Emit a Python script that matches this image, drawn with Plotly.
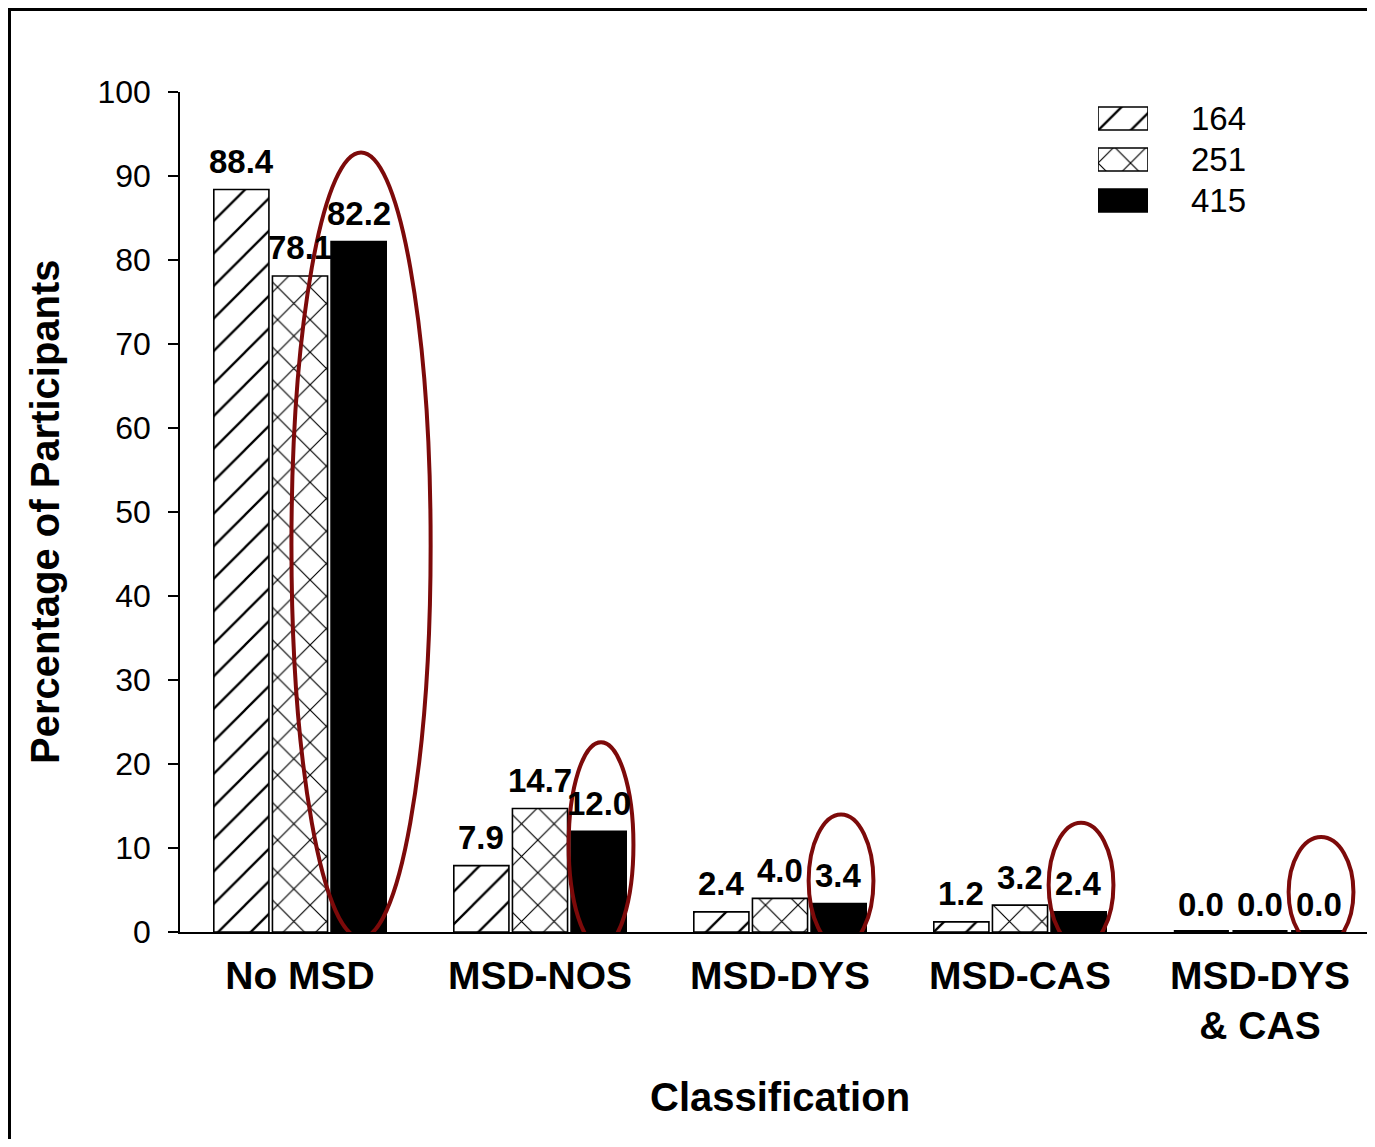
import plotly.graph_objects as go

# ---- data ----
categories = ["No MSD", "MSD-NOS", "MSD-DYS", "MSD-CAS", "MSD-DYS<br>& CAS"]
series_names = ["164", "251", "415"]
vals_164 = [88.4, 7.9, 2.4, 1.2, 0.0]
vals_251 = [78.1, 14.7, 4.0, 3.2, 0.0]
vals_415 = [82.2, 12.0, 3.4, 2.4, 0.0]
y_ticks = [0, 10, 20, 30, 40, 50, 60, 70, 80, 90, 100]

FONT = "Liberation Sans, Arial, sans-serif"
OFF = 8  # page body margin in the screenshot
W, H = 1375 - OFF, 1147 - 2 * OFF
ML, MR, MT = 172, 0, 84
MB = H - (932 - OFF)
PW, PH = W - ML - MR, H - MT - MB

BARGAP, GROUPGAP = 0.267, 0.06
slot = (1 - BARGAP) / 3

xpos = list(range(len(categories)))

styles = [
    dict(color="white", shape="/"),
    dict(color="white", shape="x"),
    dict(color="black", shape=""),
]


def pattern(st):
    return dict(shape=st["shape"], fgcolor="black", bgcolor=st["color"],
                size=23, solidity=0.1, fillmode="replace")


def px2paper_x(px):
    return (px - OFF - ML) / PW


def px2paper_y(py):
    return (H - MB - (py - OFF)) / PH


fig = go.Figure()
all_vals = [vals_164, vals_251, vals_415]
annotations = []
for k, (name, vals, st) in enumerate(zip(series_names, all_vals, styles)):
    fig.add_trace(go.Bar(
        x=xpos, y=vals, name=name,
        marker=dict(color=st["color"],
                    line=dict(color="black", width=[1.6 if v > 0 else 4 for v in vals]),
                    pattern=pattern(st)),
        showlegend=False, cliponaxis=False,
    ))
    for i, v in enumerate(vals):
        annotations.append(dict(
            text=f"<b>{v:.1f}</b>", x=i + (k - 1) * slot, y=v, xref="x", yref="y",
            showarrow=False, xanchor="center", yanchor="middle", yshift=28,
            font=dict(family=FONT, size=33, color="black")))

# legend drawn as a tiny bar chart on its own axes
for name, st in zip(series_names, styles):
    fig.add_trace(go.Bar(
        x=[1], y=[name], orientation="h", width=0.56, offset=-0.28,
        xaxis="x2", yaxis="y2", showlegend=False, hoverinfo="skip",
        marker=dict(color=st["color"], line=dict(color="black", width=1.6),
                    pattern=pattern(st)),
    ))

# picture frame, then highlight ellipses around the 415 bars (derived from the data)
shapes = [dict(type="rect", xref="paper", yref="paper",
               x0=px2paper_x(OFF + 1.5), x1=px2paper_x(W + 60),
               y0=px2paper_y(H + 60), y1=px2paper_y(OFF + 1.5),
               fillcolor="white", line=dict(color="black", width=3), layer="below")]
for i, v in enumerate(vals_415):
    half = 0.29 if i == 0 else 0.135
    cx = i + slot + 0.01
    shapes.append(dict(type="circle", xref="x", yref="y",
                       x0=cx - half, x1=cx + half,
                       y0=-1.8 if i else -0.7, y1=max(v + 10.6, 11.3),
                       line=dict(color="#7d0a0a", width=4), layer="above"))

annotations += [
    dict(text="<b>Percentage of Participants</b>", xref="paper", yref="paper",
         x=px2paper_x(45), y=0.5, textangle=-90, showarrow=False,
         xanchor="center", yanchor="middle", font=dict(family=FONT, size=40, color="black")),
    dict(text="<b>Classification</b>", xref="paper", yref="paper",
         x=px2paper_x(780), y=px2paper_y(1097), showarrow=False,
         xanchor="center", yanchor="middle", font=dict(family=FONT, size=40, color="black")),
]

fig.update_layout(
    width=W, height=H,
    margin=dict(l=ML, r=MR, t=MT, b=MB),
    paper_bgcolor="#e6e6e6", plot_bgcolor="rgba(0,0,0,0)",
    barmode="group", bargap=BARGAP, bargroupgap=GROUPGAP,
    font=dict(family=FONT, color="black"),
    shapes=shapes,
    annotations=annotations,
    xaxis=dict(range=[-0.5, -0.5 + PW / 240], tickmode="array", tickvals=xpos, ticktext=categories,
               showline=True, linecolor="black", linewidth=1.6, ticks="", showgrid=False,
               zeroline=False, tickfont=dict(family=FONT, size=39, weight="bold", color="black"),
               ticklabelstandoff=8),
    yaxis=dict(range=[0, 100], tickvals=y_ticks, showline=True, linecolor="black", linewidth=1.6,
               ticks="outside", ticklen=10, tickwidth=1.6, tickcolor="black", showgrid=False,
               zeroline=False, tickfont=dict(family=FONT, size=32, color="black"),
               ticklabelstandoff=11),
    xaxis2=dict(domain=[px2paper_x(1098), px2paper_x(1148)], range=[0, 1], anchor="y2",
                visible=False, fixedrange=True),
    yaxis2=dict(domain=[px2paper_y(221), px2paper_y(98)], anchor="x2", side="right",
                categoryorder="array", categoryarray=series_names[::-1],
                showline=False, showgrid=False, zeroline=False, ticks="",
                tickfont=dict(family=FONT, size=33, color="black"), ticklabelstandoff=42,
                fixedrange=True),
)

fig.write_html("out.html")
